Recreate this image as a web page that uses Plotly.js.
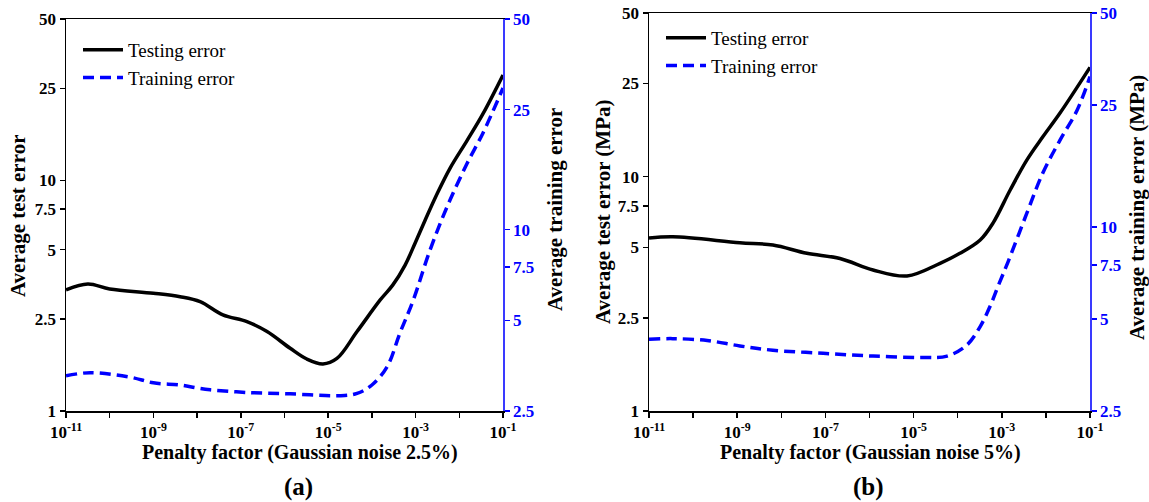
<!DOCTYPE html>
<html>
<head>
<meta charset="utf-8">
<script src="https://cdn.plot.ly/plotly-3.0.1.min.js"></script>
<style>html,body{margin:0;padding:0;background:#fff;}#chart{width:1149px;height:502px;}</style>
</head>
<body>
<div id="chart"></div>
<script>
// Penalty factor given as base-10 exponents (x axis is logarithmic)
const aTestExp  = [-11, -10.5, -10, -9, -8.39, -7.93, -7.41, -6.86, -6.40, -5.87, -5.49, -5.12, -4.80, -4.34, -3.81, -3.52, -3.24, -3.01, -2.78, -2.51, -2.21, -1.82, -1.46, -1];
const aTestVal  = [3.35, 3.55, 3.38, 3.24, 3.13, 2.98, 2.61, 2.44, 2.21, 1.87, 1.68, 1.60, 1.69, 2.21, 3.03, 3.52, 4.29, 5.35, 6.73, 8.72, 11.3, 14.9, 19.4, 28.6];
const aTrainExp = [-11, -10.45, -9.54, -9, -8.39, -8, -7.70, -6.86, -5.87, -4.73, -4.34, -4, -3.65, -3.36, -3.06, -2.67, -2.28, -1.82, -1.46, -1];
const aTrainVal = [3.27, 3.35, 3.24, 3.10, 3.05, 2.98, 2.94, 2.88, 2.85, 2.81, 2.86, 3.05, 3.51, 4.53, 5.8, 8.55, 11.9, 16.6, 20.9, 29.5];

const bTestExp  = [-11, -10.46, -8.94, -8.19, -7.42, -6.67, -5.92, -5.15, -4.40, -3.95, -3.49, -3.20, -2.81, -2.43, -2.07, -1.68, -1];
const bTestVal  = [5.47, 5.54, 5.23, 5.11, 4.71, 4.48, 4.00, 3.77, 4.27, 4.71, 5.37, 6.34, 8.78, 11.8, 14.8, 18.7, 29.3];
const bTrainExp = [-11, -10.46, -9.68, -8.94, -8.19, -7.05, -5.92, -4.79, -4.24, -3.79, -3.49, -3.27, -3.09, -2.86, -2.43, -2.07, -1.68, -1.29, -1];
const bTrainVal = [4.29, 4.31, 4.25, 4.08, 3.95, 3.86, 3.78, 3.74, 3.78, 4.11, 4.72, 5.48, 6.37, 7.67, 11.1, 15.0, 19.2, 24.1, 31.0];

const xTickExp = [-11, -10, -9, -8, -7, -6, -5, -4, -3, -2, -1];
const leftTicks = [1, 2.5, 5, 7.5, 10, 25, 50];
const leftTickText = ['1', '2.5', '5', '7.5', '10', '25', '50'];
const rightTicks = [2.5, 5, 7.5, 10, 25, 50];
const rightTickText = ['2.5', '5', '7.5', '10', '25', '50'];

const toX = e => e.map(v => Math.pow(10, v));
const xTickVals = toX(xTickExp);
const xTickText = xTickExp.map(e => (Math.abs(e) % 2 === 1) ? '10<sup>' + e + '</sup>' : '');

const SERIF = 'Liberation Serif, Times New Roman, serif';
const BLUE = '#0000ff';
const W = 1149, H = 502;
const px = v => v / W, py = v => 1 - v / H;

const traces = [
  {x: toX(aTestExp), y: aTestVal, xaxis: 'x', yaxis: 'y', name: 'Testing error', mode: 'lines',
   line: {color: '#000', width: 3.5, shape: 'spline', smoothing: 1}, legend: 'legend'},
  {x: toX(aTrainExp), y: aTrainVal, xaxis: 'x', yaxis: 'y2', name: 'Training error', mode: 'lines',
   line: {color: BLUE, width: 3.5, dash: '11px,6px', shape: 'spline', smoothing: 1}, legend: 'legend'},
  {x: toX(bTestExp), y: bTestVal, xaxis: 'x2', yaxis: 'y3', name: 'Testing error', mode: 'lines',
   line: {color: '#000', width: 3.5, shape: 'spline', smoothing: 1}, legend: 'legend2'},
  {x: toX(bTrainExp), y: bTrainVal, xaxis: 'x2', yaxis: 'y4', name: 'Training error', mode: 'lines',
   line: {color: BLUE, width: 3.5, dash: '11px,6px', shape: 'spline', smoothing: 1}, legend: 'legend2'}
];

function xAxis(dom, anchor) {
  return {domain: dom, anchor: anchor, type: 'log', range: [-11, -1],
    tickmode: 'array', tickvals: xTickVals, ticktext: xTickText,
    ticks: 'outside', ticklen: 5, tickwidth: 1.5, tickcolor: '#000',
    showline: true, linecolor: '#000', linewidth: 1.5, mirror: true,
    showgrid: false, zeroline: false,
    tickfont: {family: SERIF, size: 17, color: '#000', weight: 'bold'}};
}
function leftAxis(dom, anchor) {
  return {domain: dom, anchor: anchor, type: 'log', range: [0, Math.log10(50)],
    tickmode: 'array', tickvals: leftTicks, ticktext: leftTickText,
    ticks: 'outside', ticklen: 5, tickwidth: 1.5, tickcolor: '#000',
    showline: true, linecolor: '#000', linewidth: 1.5,
    showgrid: false, zeroline: false,
    tickfont: {family: SERIF, size: 17, color: '#000', weight: 'bold'}};
}
function rightAxis(anchor, over) {
  return {overlaying: over, anchor: anchor, side: 'right', type: 'log', range: [Math.log10(2.5), Math.log10(50)],
    tickmode: 'array', tickvals: rightTicks, ticktext: rightTickText,
    ticks: 'outside', ticklen: 5, tickwidth: 1.5, tickcolor: BLUE,
    showline: true, linecolor: '#3a3aff', linewidth: 1.5,
    showgrid: false, zeroline: false,
    tickfont: {family: SERIF, size: 17, color: BLUE, weight: 'bold'}};
}

const titleFont = {family: SERIF, size: 21, color: '#000', weight: 'bold'};
const ann = (text, x, y, opts) => Object.assign({text: text, x: px(x), y: py(y), xref: 'paper', yref: 'paper',
  showarrow: false, xanchor: 'center', yanchor: 'middle', font: titleFont}, opts || {});
const xtFont = Object.assign({}, titleFont, {size: 20});
const tagFont = Object.assign({}, titleFont, {size: 25});

const legendBase = {font: {family: SERIF, size: 19, color: '#000'}, bgcolor: 'rgba(0,0,0,0)',
  xanchor: 'left', yanchor: 'top', itemwidth: 40, tracegroupgap: 0};

const layout = {
  width: W, height: H, margin: {l: 0, r: 0, t: 0, b: 0},
  paper_bgcolor: '#fff', plot_bgcolor: '#fff', showlegend: true,
  xaxis: xAxis([px(66), px(503)], 'y'),
  yaxis: leftAxis([py(411), py(19)], 'x'),
  yaxis2: rightAxis('x', 'y'),
  xaxis2: xAxis([px(649), px(1090)], 'y3'),
  yaxis3: leftAxis([py(411), py(13)], 'x2'),
  yaxis4: rightAxis('x2', 'y3'),
  legend: Object.assign({x: px(78), y: py(31)}, legendBase),
  legend2: Object.assign({x: px(661), y: py(19)}, legendBase),
  annotations: [
    ann('Average test error', 18, 216, {textangle: -90}),
    ann('Average training error', 555, 210, {textangle: -90}),
    ann('Average test error (MPa)', 603, 212, {textangle: -90}),
    ann('Average training error (MPa)', 1137, 208, {textangle: -90}),
    ann('Penalty factor (Gaussian noise 2.5%)', 300, 452, {font: xtFont}),
    ann('Penalty factor (Gaussian noise 5%)', 870, 452, {font: xtFont}),
    ann('(a)', 298, 487, {font: tagFont}),
    ann('(b)', 868, 487, {font: tagFont})
  ]
};

Plotly.newPlot('chart', traces, layout, {staticPlot: true, displayModeBar: false});
</script>
</body>
</html>
